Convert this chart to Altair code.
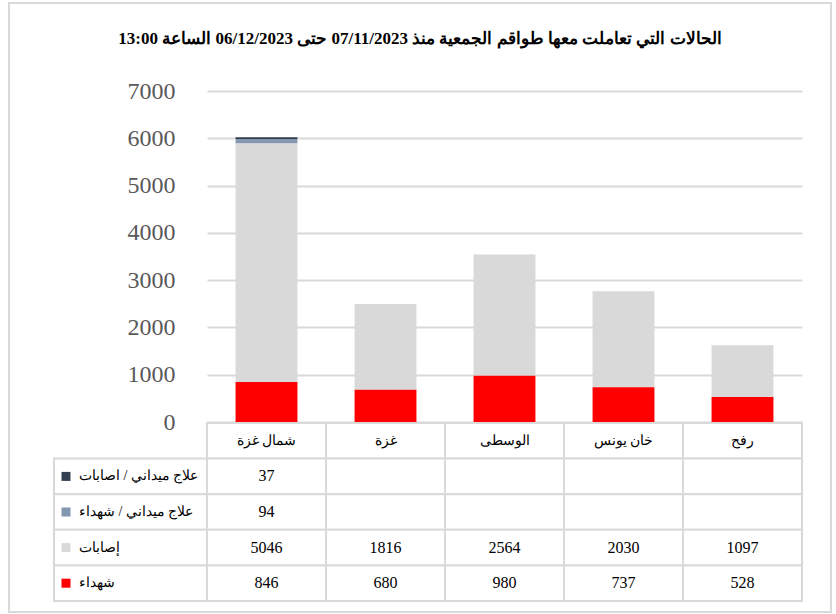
import altair as alt
import pandas as pd

categories = ["شمال غزة", "غزة", "الوسطى", "خان يونس", "رفح"]
series = ["علاج ميداني / اصابات", "علاج ميداني / شهداء", "إصابات", "شهداء"]
series_colors = ["#333f50", "#8497b0", "#d9d9d9", "#ff0000"]
field_injuries = [37, None, None, None, None]
field_martyrs = [94, None, None, None, None]
injuries = [5046, 1816, 2564, 2030, 1097]
martyrs = [846, 680, 980, 737, 528]
y_ticks = [0, 1000, 2000, 3000, 4000, 5000, 6000, 7000]
title_text = "الحالات التي تعاملت معها طواقم الجمعية منذ 07/11/2023 حتى 06/12/2023 الساعة 13:00"
HEADER = "header"

SERIF = "Liberation Serif"
GRID = "#d9d9d9"

rows = []
for s_idx, (name, vals) in enumerate(zip(series, [field_injuries, field_martyrs, injuries, martyrs])):
    for c, v in zip(categories, vals):
        rows.append({"category": c, "row": name, "series": name, "value": v,
                     "stack": 3 - s_idx, "label": "" if v is None else str(v)})
long_df = pd.DataFrame(rows)
bar_df = long_df.dropna(subset=["value"])
header_df = pd.DataFrame({"category": categories, "row": [HEADER] * len(categories), "label": categories})
value_df = long_df[["category", "row", "label"]]
cell_df = pd.concat([header_df, value_df], ignore_index=True)
legend_df = pd.DataFrame({"row": series, "series": series})
frame_df = pd.DataFrame({"k": [0]})

row_domain = [HEADER] + series

x_enc = alt.X("category:N", sort=categories, axis=None,
              scale=alt.Scale(domain=categories, paddingInner=0, paddingOuter=0))


def y_rows():
    return alt.Y("row:N", axis=None,
                 scale=alt.Scale(domain=row_domain, range=[332, 510], paddingInner=0, paddingOuter=0))


color_enc = alt.Color("series:N", legend=None,
                      scale=alt.Scale(domain=series, range=series_colors))

frame = alt.Chart(frame_df).mark_rect(fill="transparent", stroke=GRID, strokeWidth=2).encode(
    x=alt.value(-198), x2=alt.value(624), y=alt.value(-88), y2=alt.value(521)
)

bars = alt.Chart(bar_df).mark_bar(width=alt.RelativeBandSize(0.52)).encode(
    x=x_enc,
    y=alt.Y("value:Q", stack="zero",
            scale=alt.Scale(domain=[0, 7000], range=[331, 0], nice=False),
            axis=alt.Axis(values=y_ticks, format="d", title=None, domain=False, ticks=False,
                          grid=True, gridColor=GRID, gridWidth=2,
                          labelFont=SERIF, labelFontSize=24, labelColor="#595959",
                          labelPadding=32, labelBaseline="middle")),
    color=color_enc,
    order=alt.Order("stack:Q"),
)

cells = alt.Chart(cell_df).mark_rect(fill="white", stroke=GRID, strokeWidth=2).encode(
    x=x_enc, y=y_rows()
)

legend_cells = alt.Chart(legend_df).mark_rect(fill="white", stroke=GRID, strokeWidth=2).encode(
    x=alt.value(-153), x2=alt.value(0), y=y_rows()
)

squares = alt.Chart(legend_df).mark_square(size=81, opacity=1).encode(
    x=alt.value(-141), y=y_rows(), color=color_enc
)

legend_text = alt.Chart(legend_df).mark_text(align="left", baseline="middle", font=SERIF,
                                             fontSize=14, color="black").encode(
    x=alt.value(-128), y=y_rows(), text="series:N"
)

header_text = alt.Chart(header_df).mark_text(align="center", baseline="middle", font=SERIF,
                                             fontSize=14, color="black").encode(
    x=x_enc, y=y_rows(), text="label:N"
)

value_text = alt.Chart(value_df).mark_text(align="center", baseline="middle", font=SERIF,
                                           fontSize=16, color="black").encode(
    x=x_enc, y=y_rows(), text="label:N"
)

chart = alt.layer(
    frame, bars, cells, legend_cells, squares, legend_text, header_text, value_text
).resolve_scale(y="independent").properties(
    width=595, height=510,
    padding={"left": 8, "top": 2, "right": 4, "bottom": 1},
    title=alt.Title(title_text, font=SERIF, fontSize=17, fontWeight="bold", color="black",
                    anchor="middle", frame="bounds", offset=-46),
).configure_view(stroke="transparent")

chart.save("out.html", embed_options={"renderer": "svg", "actions": False})
